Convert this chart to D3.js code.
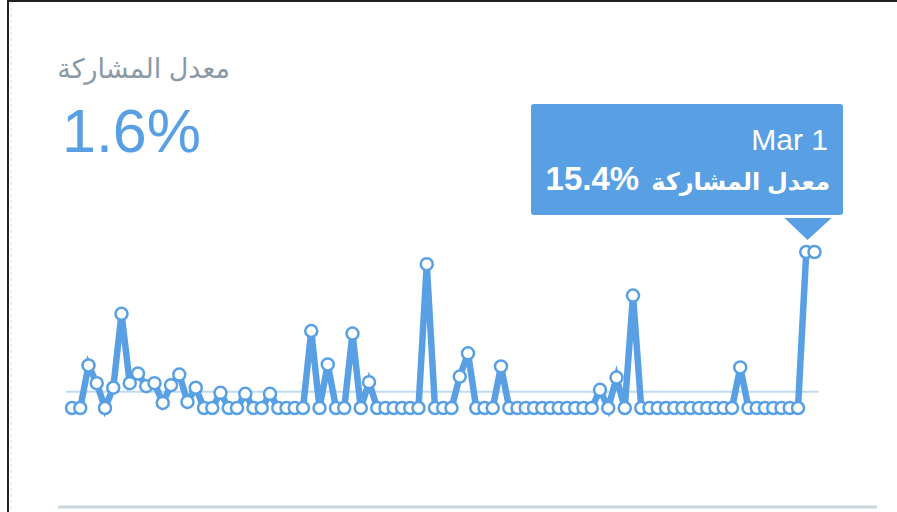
<!DOCTYPE html>
<html><head><meta charset="utf-8">
<script src="https://cdn.jsdelivr.net/npm/d3@7"></script>
<style>
html,body{margin:0;padding:0;background:#fff;}
svg{display:block;}
</style></head>
<body>
<svg id="chart" width="897" height="512"></svg>
<script>
// ---- data ----
const startDate = "2017-12-01"; // first day shown (Dec 1 … Mar 1)
const values = [0, 0, 4.2, 2.45, 0, 2.0, 9.3, 2.45, 3.4, 2.15,
  2.45, 0.5, 2.25, 3.3, 0.6, 2.0, 0, 0, 1.5, 0,
  0, 1.4, 0, 0, 1.4, 0, 0, 0, 0, 7.6,
  0, 4.3, 0, 0, 7.35, 0, 2.55, 0, 0, 0,
  0, 0, 0, 14.2, 0, 0, 0, 3.1, 5.4, 0,
  0, 0, 4.1, 0, 0, 0, 0, 0, 0, 0,
  0, 0, 0, 0, 1.8, 0, 3.0, 0, 11.1, 0,
  0, 0, 0, 0, 0, 0, 0, 0, 0, 0,
  0, 4.0, 0, 0, 0, 0, 0, 0, 0, 15.4,
  15.4];
const average = 1.6;
const titleText = "معدل المشاركة";
const averageLabel = "1.6%";
const tooltipDate = "Mar 1";
const tooltipValue = "15.4%";

const dates = d3.timeDay.range(new Date(startDate + "T00:00:00"), d3.timeDay.offset(new Date(startDate + "T00:00:00"), values.length));
const data = values.map((v, i) => ({date: dates[i], value: v}));

// ---- layout ----
const blue = "#58a0e3";
const svg = d3.select("#chart");

// frame
svg.append("line").attr("x1", 8).attr("x2", 897).attr("y1", 1).attr("y2", 1)
  .attr("stroke", "#222").attr("stroke-width", 2);
svg.append("line").attr("x1", 8).attr("x2", 8).attr("y1", 0).attr("y2", 512)
  .attr("stroke", "#222").attr("stroke-width", 2);
svg.append("line").attr("x1", 11).attr("x2", 11).attr("y1", 2).attr("y2", 512)
  .attr("stroke", "#e6e6e6").attr("stroke-width", 1.5).attr("stroke-dasharray", "3,3");

const x = d3.scaleTime().domain(d3.extent(dates)).range([72, 814.5]);
const y = d3.scaleLinear().domain([0, 15.4]).range([408, 252]);

// title + big number
svg.append("text").attr("x", 230).attr("y", 78).attr("text-anchor", "end")
  .attr("font-family", "'Liberation Sans','DejaVu Sans',sans-serif").attr("font-size", 27)
  .attr("fill", "#8a99a5").text(titleText);
svg.append("text").attr("x", 62).attr("y", 152)
  .attr("font-family", "'Liberation Sans',Arial,sans-serif").attr("font-size", 61)
  .attr("fill", blue).text(averageLabel);

// average line
svg.append("line").attr("x1", x(dates[0]) - 6).attr("x2", x(dates[dates.length - 1]) + 4)
  .attr("y1", y(average)).attr("y2", y(average))
  .attr("stroke", "#bcdaf3").attr("stroke-width", 2);

// bottom rule
svg.append("line").attr("x1", 58).attr("x2", 877).attr("y1", 507).attr("y2", 507)
  .attr("stroke", "#ccd6dd").attr("stroke-width", 3);

// line
const line = d3.line().x(d => x(d.date)).y(d => y(d.value));
svg.append("path").datum(data).attr("d", line)
  .attr("fill", "none").attr("stroke", blue).attr("stroke-width", 6.5)
  .attr("stroke-linejoin", "miter").attr("stroke-miterlimit", 4);

// points
svg.selectAll("circle.pt").data(data).join("circle").attr("class", "pt")
  .attr("cx", d => x(d.date)).attr("cy", d => y(d.value)).attr("r", 6)
  .attr("fill", "#fff").attr("stroke", blue).attr("stroke-width", 2.5);

// tooltip
const last = data[data.length - 1];
const tipX = x(last.date) - 7, tipY = y(last.value) - 12;
const tip = svg.append("g");
tip.append("rect").attr("x", 531).attr("y", 104).attr("width", 312).attr("height", 111)
  .attr("rx", 3).attr("fill", blue);
tip.append("path").attr("d", `M${tipX - 23},218 L${tipX + 24},218 L${tipX},${tipY} Z`).attr("fill", blue);
tip.append("text").attr("x", 828).attr("y", 150).attr("text-anchor", "end")
  .attr("font-family", "'Liberation Sans',Arial,sans-serif").attr("font-size", 30)
  .attr("fill", "#fff").text(tooltipDate);
const ar = tip.append("text").attr("x", 830).attr("y", 190).attr("text-anchor", "end")
  .attr("font-family", "'Liberation Sans','DejaVu Sans',sans-serif").attr("font-size", 24).attr("font-weight", "bold")
  .attr("fill", "#fff").text(titleText);
const arW = ar.node().getComputedTextLength();
tip.append("text").attr("x", 830 - arW - 12).attr("y", 190).attr("text-anchor", "end")
  .attr("font-family", "'Liberation Sans',Arial,sans-serif").attr("font-size", 33).attr("font-weight", "bold")
  .attr("fill", "#fff").text(tooltipValue);
</script>
</body></html>
